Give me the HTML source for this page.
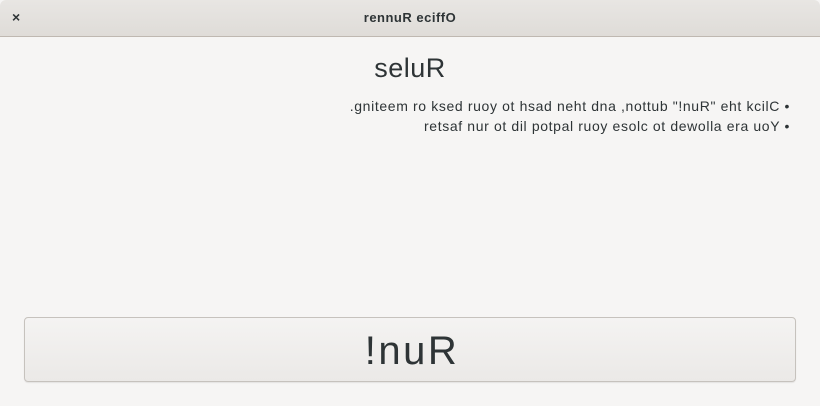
<!DOCTYPE html>
<html><head><style>
body{margin:0;width:820px;height:406px;background:#f6f5f4;font-family:"Liberation Sans",sans-serif;overflow:hidden;position:relative;color:#2e3436}
.tb{position:absolute;left:0;top:0;width:820px;height:36px;background:linear-gradient(#e8e6e3,#dfdcd8);border-bottom:1px solid #bfb8b1;border-radius:6px 6px 0 0}
.x{position:absolute;left:12px;top:9px;font-size:14px;font-weight:bold}
.t{position:absolute;left:0;width:820px;top:10px;text-align:center;font-size:13px;font-weight:bold;letter-spacing:0.5px}
.h{position:absolute;left:0;width:820px;top:53px;text-align:center;font-size:27px;letter-spacing:0.5px}
.l{position:absolute;right:30px;font-size:14px;white-space:nowrap;letter-spacing:0.63px}
.b{position:absolute;left:24px;top:317px;width:770px;height:63px;border:1px solid #c6c2bd;border-radius:4px;background:linear-gradient(#f4f3f2,#ebe9e7);box-shadow:0 1px 1px rgba(0,0,0,.08);text-align:center;line-height:66px;font-size:40px;letter-spacing:2.5px;padding-left:4px;box-sizing:content-box}
</style></head><body>
<div class="tb"><div class="x">×</div><div class="t">rennuR eciffO</div></div>
<div class="h">seluR</div>
<div class="l" style="top:98px">.gniteem ro ksed ruoy ot hsad neht dna ,nottub "!nuR" eht kcilC •</div>
<div class="l" style="top:118px">retsaf nur ot dil potpal ruoy esolc ot dewolla era uoY •</div>
<div class="b" style="width:766px">!nuR</div>
</body></html>
